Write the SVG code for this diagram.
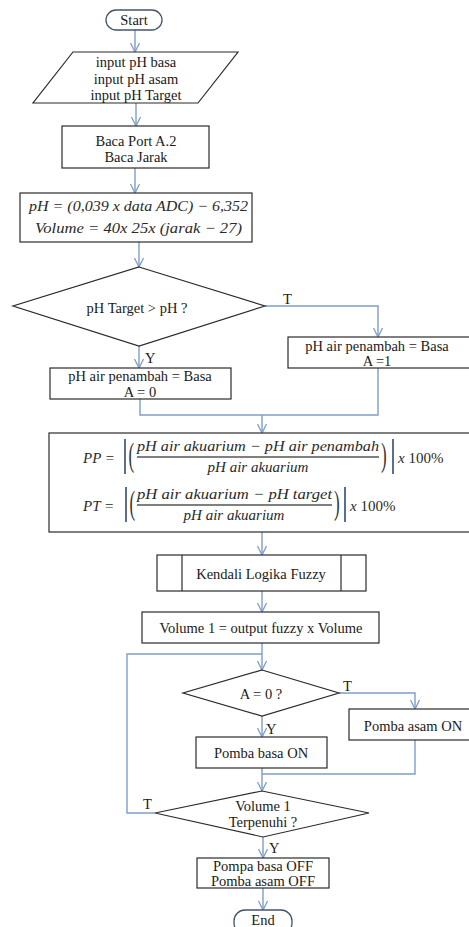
<svg xmlns="http://www.w3.org/2000/svg" width="469" height="927" viewBox="0 0 469 927">
<style>
.bg{fill:#ffffff}
.box{fill:#ffffff;stroke:#2b2b2b;stroke-width:1.2}
.term{fill:#ffffff;stroke:#44546a;stroke-width:1.3}
.c{fill:none;stroke:#7f9dcc;stroke-width:1.4}
.t{font-family:"Liberation Serif","DejaVu Serif",serif;font-size:14.5px;fill:#1a1a1a;text-anchor:middle}
.l{font-family:"Liberation Serif","DejaVu Serif",serif;font-size:14.5px;fill:#1a1a1a}
.m{font-family:"Liberation Serif","DejaVu Serif",serif;font-style:italic;font-size:15px;fill:#2a2a2a}
.n{font-family:"Liberation Serif","DejaVu Serif",serif;font-size:15px;fill:#2a2a2a}
.par{font-family:"Liberation Serif","DejaVu Serif",serif;font-size:17px;fill:#333333}
.bar{stroke:#555555;stroke-width:1.4}
.abs{stroke:#5a6f8f;stroke-width:2}
</style>
<defs>
<marker id="ah" markerUnits="userSpaceOnUse" markerWidth="12" markerHeight="12" refX="10" refY="5" orient="auto">
<path d="M1,0.5 L10,5 L1,9.5" fill="none" stroke="#7f9dcc" stroke-width="1.3"/>
</marker>
</defs>
<rect class="bg" x="0" y="0" width="469" height="927"/>

<g id="connectors">
<line class="c" x1="135" y1="30" x2="135" y2="52" marker-end="url(#ah)"/>
<line class="c" x1="136" y1="103" x2="136" y2="126" marker-end="url(#ah)"/>
<line class="c" x1="135" y1="168" x2="135" y2="193" marker-end="url(#ah)"/>
<line class="c" x1="139" y1="242" x2="139" y2="267" marker-end="url(#ah)"/>
<polyline class="c" points="265,306 378,306 378,337" marker-end="url(#ah)"/>
<line class="c" x1="139" y1="346" x2="139" y2="368" marker-end="url(#ah)"/>
<polyline class="c" points="140,399 140,415 378,415 378,368"/>
<line class="c" x1="262" y1="415" x2="262" y2="433" marker-end="url(#ah)"/>
<line class="c" x1="262" y1="532" x2="262" y2="555" marker-end="url(#ah)"/>
<line class="c" x1="262" y1="591" x2="262" y2="612" marker-end="url(#ah)"/>
<line class="c" x1="262" y1="643" x2="262" y2="670" marker-end="url(#ah)"/>
<polyline class="c" points="155,813 127,813 127,654 262,654"/>
<polyline class="c" points="339,693 415,693 415,709" marker-end="url(#ah)"/>
<line class="c" x1="262" y1="716" x2="262" y2="737" marker-end="url(#ah)"/>
<line class="c" x1="262" y1="768" x2="262" y2="791" marker-end="url(#ah)"/>
<polyline class="c" points="415,740 415,774 262,774"/>
<line class="c" x1="263" y1="837" x2="263" y2="858" marker-end="url(#ah)"/>
<line class="c" x1="263" y1="888" x2="263" y2="910" marker-end="url(#ah)"/>
<text class="l" x="283" y="304">T</text>
<text class="l" x="145" y="363">Y</text>
<text class="l" x="343" y="691">T</text>
<text class="l" x="266" y="734">Y</text>
<text class="l" x="143" y="809">T</text>
<text class="l" x="269" y="853">Y</text>
</g>

<g id="start">
<rect class="term" x="106" y="10" width="56" height="20" rx="10"/>
<text class="t" x="134" y="25">Start</text>
</g>

<g id="input">
<polygon class="box" points="73,52 238,52 198,103 33,103"/>
<text class="t" x="136" y="67">input pH basa</text>
<text class="t" x="136" y="83.5">input pH asam</text>
<text class="t" x="136" y="100">input pH Target</text>
</g>

<g id="baca">
<rect class="box" x="62" y="126" width="147" height="42"/>
<text class="t" x="136" y="146">Baca Port A.2</text>
<text class="t" x="136" y="162">Baca Jarak</text>
</g>

<g id="rumus1">
<rect class="box" x="20" y="193" width="232" height="49"/>
<text class="m" x="29" y="211" textLength="219" lengthAdjust="spacingAndGlyphs">pH = (0,039 x data ADC) − 6,352</text>
<text class="m" x="35" y="233" textLength="207" lengthAdjust="spacingAndGlyphs">Volume = 40x 25x (jarak − 27)</text>
</g>

<g id="cek-target">
<polygon class="box" points="139,267 265,306 139,346 13,306"/>
<text class="t" x="137" y="313">pH Target &gt; pH ?</text>
</g>

<g id="penambah-a1">
<rect class="box" x="288" y="337" width="183" height="31"/>
<text class="t" x="377" y="351">pH air penambah = Basa</text>
<text class="t" x="377" y="366">A =1</text>
</g>

<g id="penambah-a0">
<rect class="box" x="50" y="368" width="181" height="31"/>
<text class="t" x="140" y="381">pH air penambah = Basa</text>
<text class="t" x="140" y="396.5">A = 0</text>
</g>

<g id="rumus2">
<rect class="box" x="49" y="433" width="422" height="99"/>
<text class="m" x="83" y="463">PP =</text>
<line class="abs" x1="125" y1="439" x2="125" y2="474"/>
<text class="par" transform="translate(128.5,466) scale(1,2)">(</text>
<text class="m" x="137" y="451" textLength="242" lengthAdjust="spacingAndGlyphs">pH air akuarium − pH air penambah</text>
<line class="bar" x1="137" y1="457" x2="379" y2="457"/>
<text class="m" x="258" y="472" text-anchor="middle">pH air akuarium</text>
<text class="par" transform="translate(381,466) scale(1,2)">)</text>
<line class="abs" x1="393" y1="439" x2="393" y2="474"/>
<text class="n" x="398" y="463"><tspan style="font-style:italic">x</tspan> 100%</text>

<text class="m" x="83" y="511">PT =</text>
<line class="abs" x1="126" y1="487" x2="126" y2="522"/>
<text class="par" transform="translate(129.5,514) scale(1,2)">(</text>
<text class="m" x="137" y="499" textLength="195" lengthAdjust="spacingAndGlyphs">pH air akuarium − pH target</text>
<line class="bar" x1="137" y1="505" x2="332" y2="505"/>
<text class="m" x="234" y="520" text-anchor="middle">pH air akuarium</text>
<text class="par" transform="translate(334,514) scale(1,2)">)</text>
<line class="abs" x1="345" y1="487" x2="345" y2="522"/>
<text class="n" x="350" y="511"><tspan style="font-style:italic">x</tspan> 100%</text>
</g>

<g id="fuzzy">
<rect class="box" x="157" y="555" width="209" height="36"/>
<line class="box" x1="182" y1="555" x2="182" y2="591"/>
<line class="box" x1="341" y1="555" x2="341" y2="591"/>
<text class="t" x="261" y="579">Kendali  Logika Fuzzy</text>
</g>

<g id="volume1">
<rect class="box" x="142" y="612" width="237" height="31"/>
<text class="t" x="261" y="633">Volume 1 = output fuzzy x Volume</text>
</g>

<g id="cek-a">
<polygon class="box" points="262,670 339,693 262,716 183,693"/>
<text class="t" x="261" y="698.5">A = 0 ?</text>
</g>

<g id="asam-on">
<rect class="box" x="349" y="709" width="122" height="31"/>
<text class="t" x="413" y="730.5">Pomba asam ON</text>
</g>

<g id="basa-on">
<rect class="box" x="196" y="737" width="131" height="31"/>
<text class="t" x="261" y="758">Pomba basa ON</text>
</g>

<g id="cek-volume">
<polygon class="box" points="262,791 369,813 263,837 155,813"/>
<text class="t" x="263" y="811">Volume 1</text>
<text class="t" x="263" y="827">Terpenuhi ?</text>
</g>

<g id="off">
<rect class="box" x="197" y="858" width="132" height="30"/>
<text class="t" x="263" y="871">Pompa basa OFF</text>
<text class="t" x="263" y="886">Pomba asam OFF</text>
</g>

<g id="end">
<rect class="term" x="234" y="910" width="58" height="24" rx="11"/>
<text class="t" x="263" y="925">End</text>
</g>
</svg>
